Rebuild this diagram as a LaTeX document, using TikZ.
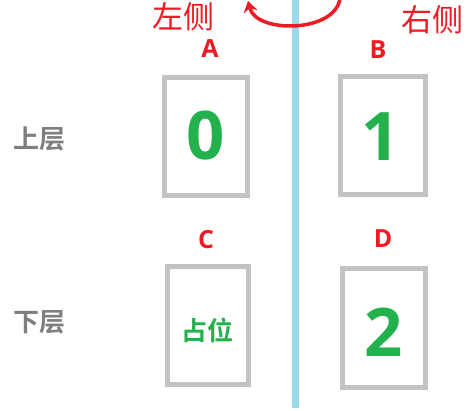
\documentclass[tikz,border=0pt]{standalone}
\usepackage{fontspec}
\setmainfont{Open Sans}
\newfontfamily\cjk{Noto Sans CJK SC}
\newfontfamily\cjkb{Noto Sans CJK SC Bold}
\usetikzlibrary{arrows.meta}
\definecolor{cred}{HTML}{ED1C24}
\definecolor{cgreen}{HTML}{22B14C}
\definecolor{cbox}{HTML}{C3C3C3}
\definecolor{cblue}{HTML}{99D9EA}
\definecolor{cgray}{HTML}{7F7F7F}
\begin{document}
\begin{tikzpicture}[x=1pt,y=-1pt,
  cell/.style={draw=cbox,line width=5pt,fill=white,inner sep=0pt},
  letter/.style={text=cred,font=\bfseries\fontsize{25}{25}\selectfont,inner sep=0pt,anchor=center},
  digit/.style={text=cgreen,font=\bfseries\fontsize{67}{67}\selectfont,inner sep=0pt},
  side/.style={text=cred,font=\cjk\fontsize{31}{31}\selectfont,inner sep=0pt},
  layer/.style={text=cgray,font=\cjkb\fontsize{26}{26}\selectfont,inner sep=0pt}]
\useasboundingbox (0,0) rectangle (476,410);
\fill[white] (0,0) rectangle (476,410);
% divider
\coordinate (ltop) at (295,0);
\coordinate (lbot) at (295,408);
\draw[cblue,line width=7pt] (ltop) -- (lbot);
% boxes
\node[cell,minimum width=83pt,minimum height=118pt] (A) at (205.5,136.5) {};
\node[cell,minimum width=85pt,minimum height=118pt] (B) at (382.5,135.5) {};
\node[cell,minimum width=81pt,minimum height=118pt] (C) at (207.5,325.5) {};
\node[cell,minimum width=83pt,minimum height=119pt] (D) at (384,328) {};
% contents
\node[digit] (d0) at (205.5,136) {0};
\node[digit] (d1) at (381,137) {1};
\node[digit] (d2) at (384,332) {2};
\node[text=cgreen,font=\cjkb\fontsize{26}{26}\selectfont,inner sep=0pt] (hold) at (207,330) {占位};
% labels
\node[letter] (la) at (210,49) {A};
\node[letter] (lb) at (378,50) {B};
\node[letter] (lc) at (206,240) {C};
\node[letter] (ld) at (383,239) {D};
\node[side] (left) at (183,17) {左侧};
\node[side] (right) at (432,20) {右侧};
\node[layer] (up) at (39,139) {上层};
\node[layer] (down) at (39,322) {下层};
% arc arrow
\coordinate (as) at (340,-2);
\coordinate (ae) at (248,1);
\draw[cred,line width=3.5pt,-{Stealth[length=11pt,width=14pt]}]
  (as) .. controls (336,33) and (256,34) .. (ae);
\end{tikzpicture}
\end{document}
